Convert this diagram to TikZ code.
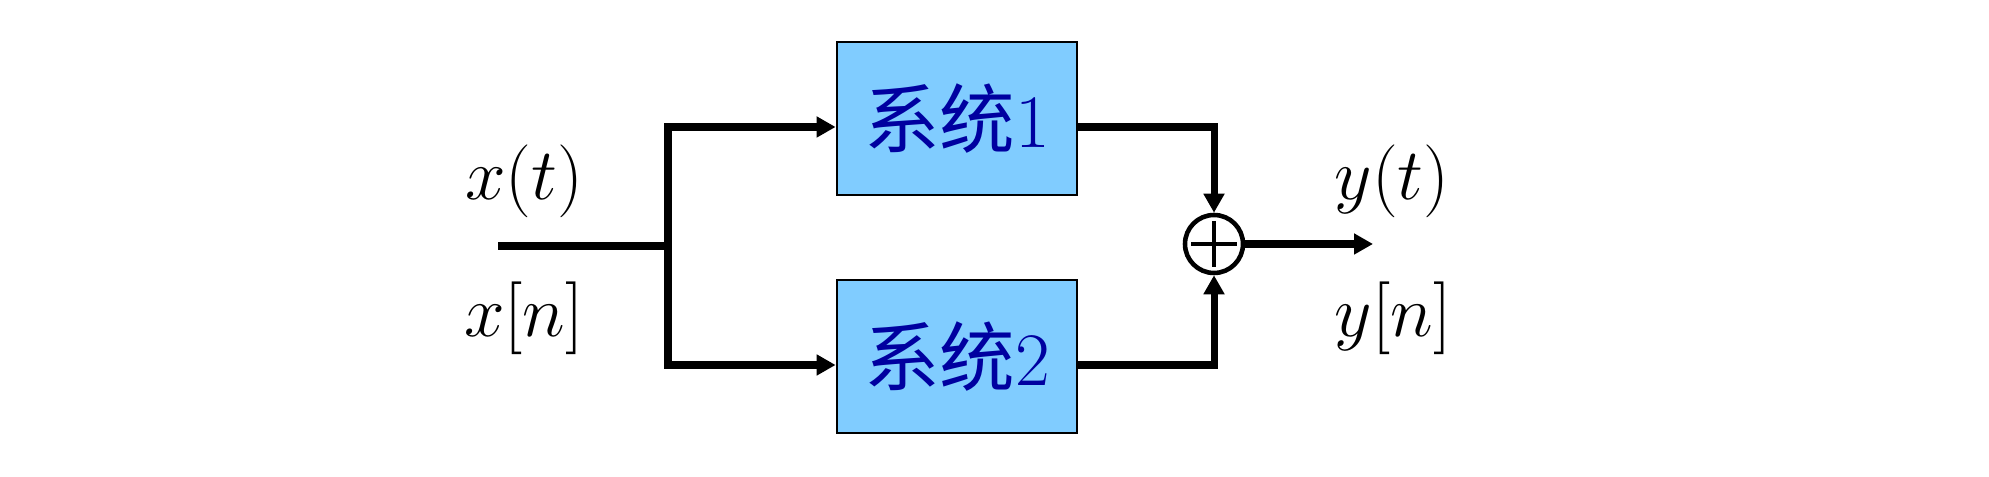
\documentclass[tikz,border=0pt]{standalone}
\usepackage{fontspec}
\newfontfamily\cjk{Noto Sans CJK SC}
\usepackage{tikz}
\usetikzlibrary{arrows.meta,positioning,calc}
\definecolor{tianlan}{RGB}{128,204,255}
\definecolor{shenlan}{RGB}{0,0,160}
\tikzset{
  kuang/.style={draw,line width=0.8pt,fill=tianlan,minimum width=24mm,minimum height=15.3mm,
                inner sep=0pt,font=\fontsize{21.5}{24}\selectfont,text=shenlan},
  xian/.style={line width=2pt},
  jiantou/.style={line width=2pt,-{Triangle[length=1.9mm,width=2mm]}},
  qiuhe/.style={circle,draw,line width=1.3pt,minimum size=5.8mm,inner sep=0pt,
                path picture={\draw[line width=1.1pt]
                  ([xshift=0.6mm]path picture bounding box.west) -- ([xshift=-0.6mm]path picture bounding box.east)
                  ([yshift=-0.6mm]path picture bounding box.north) -- ([yshift=0.6mm]path picture bounding box.south);}},
  biaoqian/.style={inner sep=0pt,font=\fontsize{22}{26}\selectfont},
}

\begin{document}
\begin{tikzpicture}
  \useasboundingbox (0,0) rectangle (19.89,4.77);
  % 1. xitong
  \node[kuang] (xitong1) at (9.57,3.585) {{\cjk 系统}1};
  \node[kuang] (xitong2) at (9.57,1.205) {{\cjk 系统}2};
  \node[qiuhe] (he) at (12.14,2.33) {};
  % 2. shuru / fenzhi
  \coordinate (ru) at (4.98,2.31);
  \coordinate (fen) at (6.68,2.31);
  \draw[xian] (ru) -- (fen);
  \draw[jiantou] (fen) |- ([yshift=-0.85mm]xitong1.west);
  \draw[jiantou] (fen) |- ([yshift=-0.85mm]xitong2.west);
  % 3. qiuhe / shuchu
  \draw[jiantou] ([yshift=-0.85mm]xitong1.east) -| (he.north);
  \draw[jiantou] ([yshift=-0.85mm]xitong2.east) -| (he.south);
  \coordinate (chu) at (13.73,2.33);
  \draw[jiantou] (he.east) -- (chu);
  % 4. xinhao
  \node[biaoqian] (xt) at (5.24,2.955) {$x(t)$};
  \node[biaoqian] (xn) at (5.24,1.585) {$x[n]$};
  \node[biaoqian] (yt) at (13.92,2.955) {$y(t)$};
  \node[biaoqian] (yn) at (13.93,1.585) {$y[n]$};
\end{tikzpicture}
\end{document}
